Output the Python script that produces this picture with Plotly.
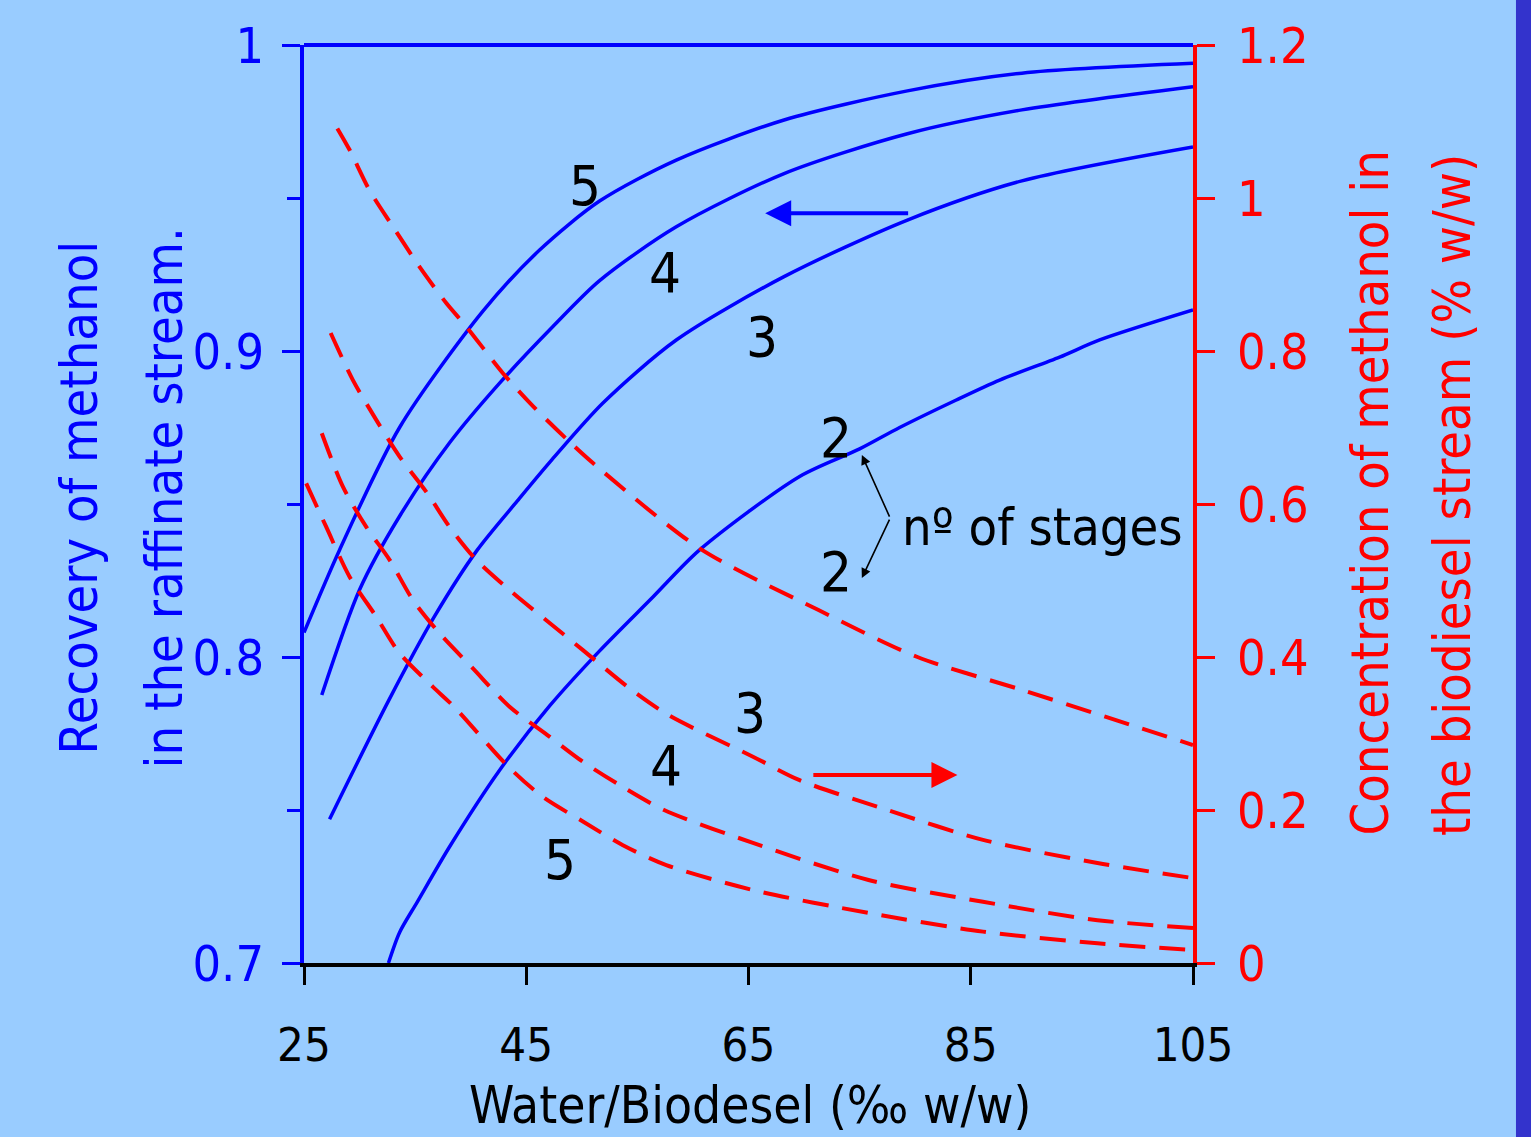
import plotly.graph_objects as go

# ---------------- data ----------------
x_ticks = [25, 45, 65, 85, 105]
left_ticks = [0.7, 0.8, 0.9, 1.0]
left_tick_text = ["0.7", "0.8", "0.9", "1"]
left_minor = [0.75, 0.85, 0.95]
right_ticks = [0, 0.2, 0.4, 0.6, 0.8, 1.0, 1.2]
right_tick_text = ["0", "0.2", "0.4", "0.6", "0.8", "1", "1.2"]

# Recovery of methanol (left axis), number of stages 2..5
rec2_x = [32.6, 33.6, 35.2, 38.1, 42.6, 47.1, 51.6, 56.4, 60.6, 69.6, 75.0, 78.6, 83.7, 87.6, 93.0, 96.6, 105]
rec2_y = [0.700, 0.710, 0.720, 0.738, 0.763, 0.784, 0.802, 0.8196, 0.835, 0.859, 0.868, 0.875, 0.884, 0.8905, 0.898, 0.9036, 0.9134]

rec3_x = [27.3, 32.65, 36.7, 40.6, 44.2, 47.2, 51.9, 58.5, 68.2, 79.3, 89.6, 105]
rec3_y = [0.747, 0.786, 0.813, 0.835, 0.851, 0.864, 0.883, 0.9036, 0.9243, 0.9428, 0.9556, 0.9667]

rec4_x = [26.6, 30.0, 33.6, 38.1, 42.6, 47.4, 51.6, 58.5, 68.2, 79.3, 89.6, 105]
rec4_y = [0.7876, 0.822, 0.846, 0.870, 0.8895, 0.908, 0.923, 0.9406, 0.958, 0.971, 0.9788, 0.9864]

rec5_x = [25, 28.2, 33.6, 41.1, 46.2, 51.6, 58.5, 68.2, 79.3, 89.6, 105]
rec5_y = [0.808, 0.835, 0.875, 0.913, 0.933, 0.949, 0.9624, 0.9755, 0.985, 0.9908, 0.9940]

# Concentration of methanol in biodiesel stream (right axis)
conc2_x = [28.0, 29.1, 30.9, 33.0, 35.4, 37.8, 39.6, 42.9, 45.6, 48.7, 51.0, 60.6, 71.3, 80.2, 89.6, 97.1, 105]
conc2_y = [1.091, 1.063, 1.010, 0.9625, 0.910, 0.8627, 0.832, 0.771, 0.728, 0.684, 0.6536, 0.542, 0.4614, 0.400, 0.357, 0.322, 0.285]

conc3_x = [27.4, 29.4, 31.5, 33.6, 36.1, 38.1, 40.5, 43.8, 46.8, 50.1, 54.3, 57.8, 65.4, 69.6, 77.5, 86.1, 96.4, 105]
conc3_y = [0.8235, 0.762, 0.71, 0.662, 0.614, 0.570, 0.527, 0.4837, 0.448, 0.409, 0.359, 0.324, 0.2697, 0.239, 0.200, 0.161, 0.1307, 0.111]

conc4_x = [26.6, 28.5, 30.6, 32.7, 34.8, 37.2, 40.2, 43.5, 46.9, 50.1, 53.7, 57.4, 65.4, 75.8, 86.1, 96.4, 105]
conc4_y = [0.6924, 0.6226, 0.570, 0.527, 0.4745, 0.431, 0.385, 0.335, 0.298, 0.263, 0.230, 0.200, 0.157, 0.1085, 0.080, 0.056, 0.0457]

conc5_x = [25.2, 27.0, 29.1, 31.5, 33.6, 36.6, 38.5, 43.5, 46.5, 50.1, 53.7, 57.6, 65.4, 75.8, 86.1, 96.4, 105]
conc5_y = [0.627, 0.570, 0.505, 0.4527, 0.405, 0.361, 0.335, 0.255, 0.217, 0.185, 0.154, 0.128, 0.0954, 0.0654, 0.041, 0.0257, 0.017]

# ---------------- styling ----------------
FONT = "Liberation Sans Narrow, DejaVu Sans Condensed, Arial Narrow, sans-serif"
BLUE = "#0000FF"
RED = "#FF0000"
BG = "#99CCFF"

fig = go.Figure()

for xs, ys, name in [(rec2_x, rec2_y, "2"), (rec3_x, rec3_y, "3"),
                     (rec4_x, rec4_y, "4"), (rec5_x, rec5_y, "5")]:
    fig.add_trace(go.Scatter(x=xs, y=ys, mode="lines", name="Recovery " + name,
                             line=dict(color=BLUE, width=3.5, shape="spline", smoothing=0.8),
                             yaxis="y", showlegend=False))

for xs, ys, name in [(conc2_x, conc2_y, "2"), (conc3_x, conc3_y, "3"),
                     (conc4_x, conc4_y, "4"), (conc5_x, conc5_y, "5")]:
    fig.add_trace(go.Scatter(x=xs, y=ys, mode="lines", name="Concentration " + name,
                             line=dict(color=RED, width=4, dash="26px,14px", shape="spline", smoothing=0.8),
                             yaxis="y2", showlegend=False))

annotations = []
# stage labels
for txt, xx, yy in [("5", 50.3, 0.954), ("4", 57.5, 0.9258), ("3", 66.2, 0.9046), ("2", 72.9, 0.8716),
                    ("2", 72.9, 0.8278), ("3", 65.1, 0.782), ("4", 57.6, 0.7647), ("5", 48.0, 0.7337)]:
    annotations.append(dict(x=xx, y=yy, xref="x", yref="y", text=txt, showarrow=False,
                            xanchor="center", yanchor="middle",
                            font=dict(family=FONT, size=56, color="black")))
annotations.append(dict(x=78.6, y=0.8425, xref="x", yref="y", text="nº of stages", showarrow=False,
                        xanchor="left", yanchor="middle", font=dict(family=FONT, size=52, color="black")))
# black pointer arrows
for hy in [0.866, 0.8258]:
    annotations.append(dict(x=75.2, y=hy, xref="x", yref="y", ax=77.75, ay=0.8454, axref="x", ayref="y",
                            text="", showarrow=True, arrowhead=2, arrowsize=1.2, arrowwidth=1.6,
                            arrowcolor="black"))
# blue arrow (points to left axis)
annotations.append(dict(x=66.5, y=0.945, xref="x", yref="y", ax=79.5, ay=0.945, axref="x", ayref="y",
                        text="", showarrow=True, arrowhead=2, arrowsize=1.3, arrowwidth=4, arrowcolor=BLUE))
# red arrow (points to right axis)
annotations.append(dict(x=83.8, y=0.2458, xref="x", yref="y2", ax=70.7, ay=0.2458, axref="x", ayref="y2",
                        text="", showarrow=True, arrowhead=2, arrowsize=1.3, arrowwidth=4, arrowcolor=RED))
# axis titles (one annotation per line for exact line spacing)
for txt, xx, yy, col in [("Recovery of methanol", -0.2520, 0.5071, BLUE),
                         ("in the raffinate stream.", -0.1564, 0.5071, BLUE),
                         ("Concentration of methanol in", 1.1991, 0.5125, RED),
                         ("the biodiesel stream (% w/w)", 1.2913, 0.5098, RED)]:
    annotations.append(dict(x=xx, y=yy, xref="paper", yref="paper", text=txt, showarrow=False,
                            textangle=-90, xanchor="center", yanchor="middle",
                            font=dict(family=FONT, size=52, color=col)))
annotations.append(dict(x=0.5017, y=-0.1895, xref="paper", yref="paper",
                        text="Water/Biodesel (‰ w/w)", showarrow=False,
                        xanchor="center", yanchor="bottom",
                        font=dict(family=FONT, size=51, color="black")))

shapes = [
    dict(type="line", xref="paper", yref="paper", x0=0, x1=1, y0=1, y1=1,
         line=dict(color=BLUE, width=4)),
    dict(type="rect", xref="paper", yref="paper", x0=1.3633, x1=1.6, y0=-0.3, y1=1.2,
         fillcolor="#3333CC", line=dict(width=0), layer="below"),
]

fig.update_layout(
    width=1531, height=1137,
    margin=dict(l=304, r=338, t=45, b=174),
    paper_bgcolor=BG, plot_bgcolor=BG,
    showlegend=False,
    font=dict(family=FONT),
    xaxis=dict(range=[25, 105], tickvals=x_ticks, ticks="outside", ticklen=18, tickwidth=3,
               tickcolor="black", showline=True, linecolor="black", linewidth=4,
               showgrid=False, zeroline=False, ticklabelstandoff=20,
               tickfont=dict(family=FONT, size=47, color="black")),
    yaxis=dict(range=[0.7, 1.0], tickvals=left_ticks, ticktext=left_tick_text, ticks="outside",
               ticklen=18, tickwidth=3, tickcolor=BLUE, showline=True, linecolor=BLUE, linewidth=4,
               showgrid=False, zeroline=False, ticklabelstandoff=8,
               tickfont=dict(family=FONT, size=50, color=BLUE),
               minor=dict(tickvals=left_minor, ticks="outside", ticklen=13, tickwidth=3, tickcolor=BLUE)),
    yaxis2=dict(range=[0, 1.2], tickvals=right_ticks, ticktext=right_tick_text, ticks="outside",
                ticklen=18, tickwidth=3, tickcolor=RED, showline=True, linecolor=RED, linewidth=4,
                showgrid=False, zeroline=False, overlaying="y", side="right", ticklabelstandoff=12,
                tickfont=dict(family=FONT, size=50, color=RED)),
    annotations=annotations,
    shapes=shapes,
)

fig.write_html("out.html", config={"displayModeBar": False},
               post_script="document.body.style.margin='0';")
